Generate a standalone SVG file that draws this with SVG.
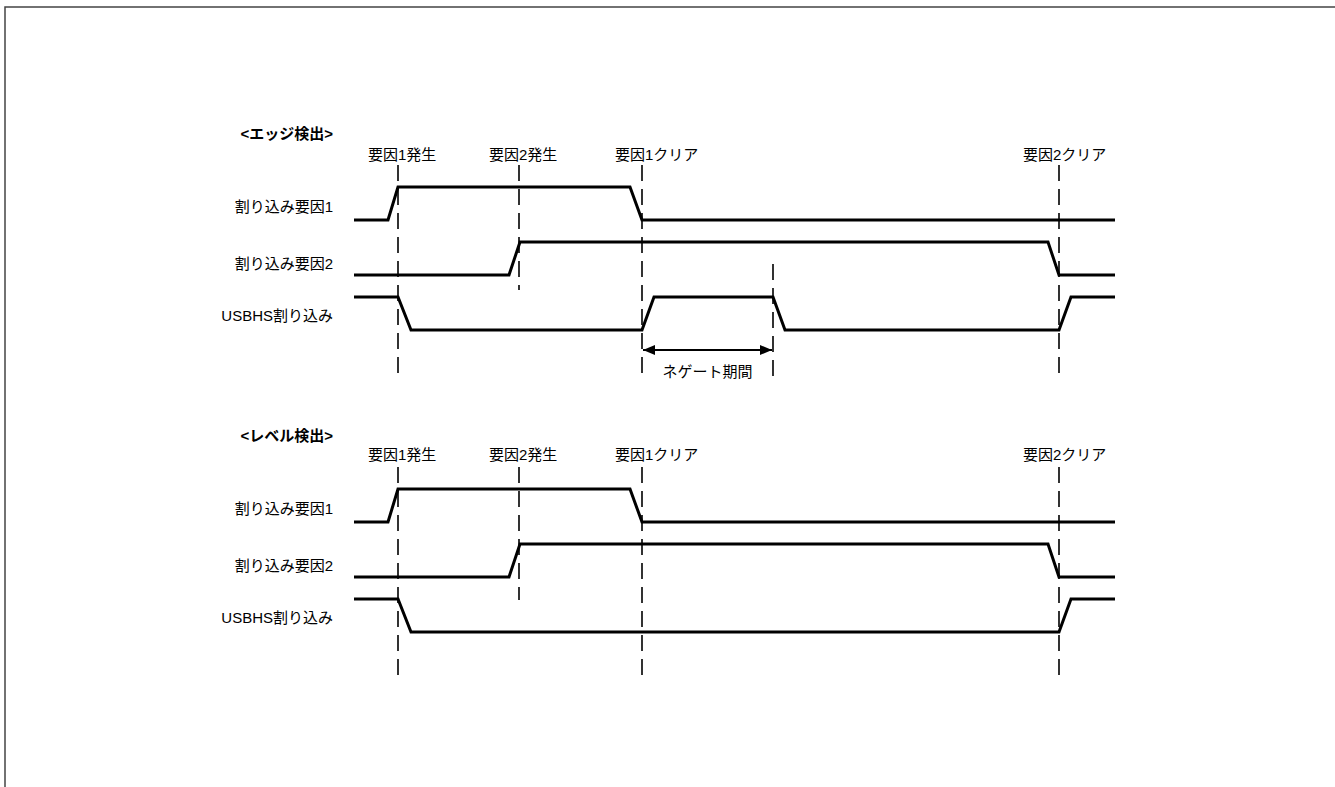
<svg xmlns="http://www.w3.org/2000/svg" width="1335" height="787" viewBox="0 0 1335 787">
<style>
text{font-family:"Liberation Sans","Noto Sans CJK JP",sans-serif;font-size:15px;fill:#000;dominant-baseline:central}
.title{font-weight:bold;text-anchor:end}
.lbl{text-anchor:end}
.sig{fill:none;stroke:#000;stroke-width:3;stroke-linejoin:miter}
.dash{stroke:#000;stroke-width:1.6;stroke-dasharray:16 8;fill:none}
</style>
<defs>
<marker id="ah" viewBox="0 0 12 10" refX="12" refY="5" markerWidth="12" markerHeight="10" markerUnits="userSpaceOnUse" orient="auto-start-reverse">
<path d="M0,0 L12,5 L0,10 Z" fill="#000"/>
</marker>
</defs>
<rect x="5" y="7" width="1400" height="900" fill="#fff" stroke="#444" stroke-width="1.5"/>

<g id="edge-section">
<text class="title" x="333" y="133">&lt;エッジ検出&gt;</text>
<g id="edge-markers">
<text x="368" y="154">要因1発生</text>
<text x="489" y="154">要因2発生</text>
<text x="615" y="154">要因1クリア</text>
<text x="1023" y="154">要因2クリア</text>
<line class="dash" x1="398" y1="165" x2="398" y2="373"/>
<line class="dash" x1="519" y1="165" x2="519" y2="290"/>
<line class="dash" x1="642" y1="165" x2="642" y2="373"/>
<line class="dash" x1="773" y1="264" x2="773" y2="376"/>
<line class="dash" x1="1059" y1="165" x2="1059" y2="373"/>
</g>
<g id="edge-src1">
<text class="lbl" x="333" y="206.5">割り込み要因1</text>
<path class="sig" d="M354,220 L388,220 L398,187 L630,187 L642,220 L1115,220"/>
</g>
<g id="edge-src2">
<text class="lbl" x="333" y="263.5">割り込み要因2</text>
<path class="sig" d="M354,275 L509,275 L520,242 L1048,242 L1059,275 L1115,275"/>
</g>
<g id="edge-usbhs">
<text class="lbl" x="333" y="315">USBHS割り込み</text>
<path class="sig" d="M354,297 L398,297 L411,330 L642,330 L654,297 L773,297 L785,330 L1059,330 L1071,297 L1115,297"/>
</g>
<text x="707.5" y="371.5" text-anchor="middle">ネゲート期間</text>
</g>

<g id="connectors">
<line x1="643" y1="350" x2="772" y2="350" stroke="#000" stroke-width="2" marker-start="url(#ah)" marker-end="url(#ah)"/>
</g>

<g id="level-section">
<text class="title" x="333" y="435">&lt;レベル検出&gt;</text>
<g id="level-markers">
<text x="368" y="454">要因1発生</text>
<text x="489" y="454">要因2発生</text>
<text x="615" y="454">要因1クリア</text>
<text x="1023" y="454">要因2クリア</text>
<line class="dash" x1="398" y1="467" x2="398" y2="675"/>
<line class="dash" x1="519" y1="467" x2="519" y2="600"/>
<line class="dash" x1="642" y1="467" x2="642" y2="675"/>
<line class="dash" x1="1059" y1="467" x2="1059" y2="675"/>
</g>
<g id="level-src1">
<text class="lbl" x="333" y="508.5">割り込み要因1</text>
<path class="sig" d="M354,522 L388,522 L398,489 L630,489 L642,522 L1115,522"/>
</g>
<g id="level-src2">
<text class="lbl" x="333" y="565.5">割り込み要因2</text>
<path class="sig" d="M354,577 L509,577 L520,544 L1048,544 L1059,577 L1115,577"/>
</g>
<g id="level-usbhs">
<text class="lbl" x="333" y="617">USBHS割り込み</text>
<path class="sig" d="M354,599 L398,599 L411,632 L1059,632 L1071,599 L1115,599"/>
</g>
</g>
</svg>
